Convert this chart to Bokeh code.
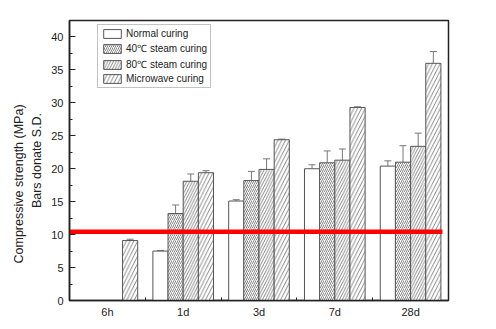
import numpy as np
from bokeh.plotting import figure
from bokeh.models import (ColumnDataSource, FixedTicker, Whisker, Legend, LegendItem,
                          Range1d, Title)
from bokeh.embed import file_html
from bokeh.resources import INLINE

# ---- data ----
ages = ["6h", "1d", "3d", "7d", "28d"]
series = ["Normal curing", "40\u2103 steam curing", "80\u2103 steam curing", "Microwave curing"]
normal = [np.nan, 7.5, 15.1, 20.0, 20.4]
normal_sd = [np.nan, 0.1, 0.2, 0.6, 0.8]
steam40 = [np.nan, 13.2, 18.2, 20.9, 21.0]
steam40_sd = [np.nan, 1.3, 1.4, 1.8, 2.5]
steam80 = [np.nan, 18.1, 19.9, 21.3, 23.4]
steam80_sd = [np.nan, 1.1, 1.6, 1.7, 2.0]
microwave = [9.1, 19.4, 24.4, 29.3, 36.0]
microwave_sd = [0.2, 0.3, 0.1, 0.1, 1.8]
threshold = 10.45
y_ticks = [0, 5, 10, 15, 20, 25, 30, 35, 40]

values = [normal, steam40, steam80, microwave]
sds = [normal_sd, steam40_sd, steam80_sd, microwave_sd]
offsets = [-0.3, -0.1, 0.1, 0.3]
hatch = [(" ", 8), ("/", 4), ("/", 5.5), ("/", 7.5)]

p = figure(frame_width=379, frame_height=280, output_backend="svg", toolbar_location=None,
           x_range=Range1d(0.5, 5.5), y_range=Range1d(0, 42.5),
           min_border_left=69, min_border_right=40, min_border_top=20, min_border_bottom=21)
p.background_fill_color = "white"
p.border_fill_color = "white"
p.outline_line_color = "#222222"
p.outline_line_width = 1.5
p.grid.visible = False

x_base = np.arange(1, len(ages) + 1)
items = []
for vals, sd, off, (hp, hs), name in zip(values, sds, offsets, hatch, series):
    v = np.array(vals, dtype=float)
    s = np.array(sd, dtype=float)
    m = ~np.isnan(v)
    src = ColumnDataSource(dict(x=x_base[m] + off, top=v[m], lo=v[m] - s[m], hi=v[m] + s[m]))
    r = p.vbar(x="x", top="top", width=0.2, source=src, fill_color="white",
               line_color="#555555", line_width=1,
               hatch_pattern=hp, hatch_scale=hs, hatch_color="#6a6a6a", hatch_weight=0.8)
    items.append(LegendItem(label=name, renderers=[r]))
    w = Whisker(base="x", upper="hi", lower="lo", source=src, line_color="#777777", line_width=1)
    w.upper_head.size = 7
    w.lower_head.size = 7
    w.upper_head.line_color = "#777777"
    w.lower_head.line_color = "#777777"
    p.add_layout(w)

p.segment(x0=[0.5], x1=[5.42], y0=[threshold], y1=[threshold], line_color="#ff0000", line_width=4.5)

legend = Legend(items=items, location=(28, 212), label_text_font="Liberation Sans",
                label_text_font_size="10px", label_text_color="#222222",
                glyph_width=22, glyph_height=11, label_height=11, spacing=2,
                padding=3, margin=0, label_standoff=3,
                border_line_color="#888888", border_line_width=1,
                background_fill_color="white", background_fill_alpha=1)
p.add_layout(legend, "center")

# axes
p.yaxis.ticker = FixedTicker(ticks=y_ticks, minor_ticks=[t + 2.5 for t in y_ticks])
p.yaxis.major_tick_in = 6
p.yaxis.major_tick_out = 0
p.yaxis.minor_tick_in = 3
p.yaxis.minor_tick_out = 0
p.yaxis.major_label_standoff = 6
p.yaxis.axis_label = "Bars donate S.D."
p.yaxis.axis_label_standoff = 4

p.xaxis.ticker = FixedTicker(ticks=list(x_base), minor_ticks=list(x_base[:-1] + 0.5))
p.xaxis.major_label_overrides = {int(i): a for i, a in zip(x_base, ages)}
p.xaxis.major_tick_in = 0
p.xaxis.major_tick_out = 0
p.xaxis.minor_tick_in = 3
p.xaxis.minor_tick_out = 0
p.xaxis.major_label_standoff = 5

for ax in (p.xaxis, p.yaxis):
    ax.axis_line_color = "#222222"
    ax.axis_line_width = 1.5
    ax.major_tick_line_color = "#222222"
    ax.minor_tick_line_color = "#222222"
    ax.major_label_text_font = "Liberation Sans"
    ax.major_label_text_font_size = "11px"
    ax.major_label_text_color = "#222222"
    ax.axis_label_text_font = "Liberation Sans"
    ax.axis_label_text_font_size = "12.5px"
    ax.axis_label_text_font_style = "normal"
    ax.axis_label_text_color = "#222222"

t = Title(text="Compressive strength (MPa)", align="left", offset=37, text_font="Liberation Sans",
          text_font_size="12.5px", text_font_style="normal", text_color="#222222", standoff=4)
p.add_layout(t, "left")

open("out.html", "w").write(file_html(p, INLINE))
